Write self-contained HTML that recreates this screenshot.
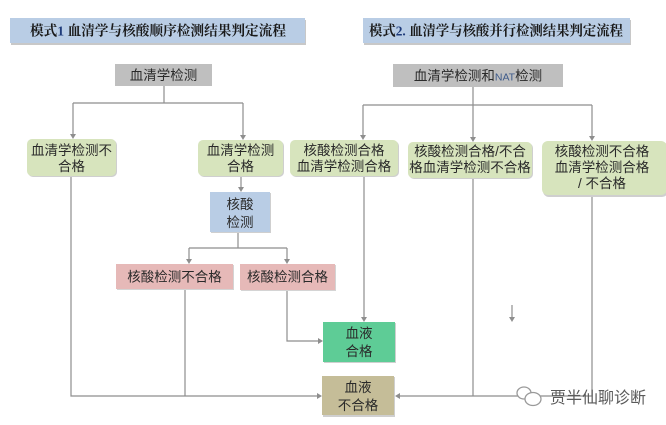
<!DOCTYPE html>
<html><head><meta charset="utf-8">
<style>
html,body{margin:0;padding:0;background:#fff;}
svg{display:block;}
.t{font-family:"Liberation Sans","Noto Sans CJK SC",sans-serif;font-size:13.5px;fill:#2a2a2a;text-anchor:middle;}
.ti{font-family:"Liberation Serif","Noto Serif CJK SC",serif;font-size:14px;font-weight:bold;fill:#1a1a1a;}
.ln{stroke:#8e8e8e;stroke-width:1.2;fill:none;}
.ar{fill:#8e8e8e;}
</style></head>
<body>
<svg width="666" height="425" viewBox="0 0 666 425" xmlns="http://www.w3.org/2000/svg">
<!-- titles -->
<rect x="11" y="20" width="295" height="25" fill="#c8c8c8"/>
<rect x="10" y="18" width="295" height="25" fill="#b9cde5"/>
<text class="ti" x="30" y="35.5" textLength="256" lengthAdjust="spacingAndGlyphs">模式<tspan fill="#1f3b7a">1</tspan> 血清学与核酸顺序检测结果判定流程</text>
<rect x="364" y="20" width="267" height="25" fill="#c8c8c8"/>
<rect x="363" y="18" width="267" height="25" fill="#b9cde5"/>
<text class="ti" x="369" y="35.5" textLength="254" lengthAdjust="spacingAndGlyphs">模式<tspan fill="#1f3b7a">2.</tspan> 血清学与核酸并行检测结果判定流程</text>

<!-- Mode 1 connectors -->
<path class="ln" d="M164 86 V103 M73 103 H243 M73 103 V134 M243 103 V135"/>
<polygon class="ar" points="70,134 76,134 73,139"/>
<polygon class="ar" points="240,135 246,135 243,140"/>
<path class="ln" d="M241 176 V187"/>
<polygon class="ar" points="238,187 244,187 241,192"/>
<path class="ln" d="M238 232 V248 M189 248 H287 M189 248 V259 M287 248 V259"/>
<polygon class="ar" points="186,259 192,259 189,264"/>
<polygon class="ar" points="284,259 290,259 287,264"/>
<path class="ln" d="M287 290 V341 H318"/>
<polygon class="ar" points="318,338 318,344 323,341"/>
<path class="ln" d="M71 176 V396 H317"/>
<polygon class="ar" points="317,393 317,399 322,396"/>
<path class="ln" d="M185 289 V396"/>

<!-- Mode 2 connectors -->
<path class="ln" d="M473 87 V105 M363 105 H592 M363 105 V135 M473 105 V137 M592 105 V136"/>
<polygon class="ar" points="360,135 366,135 363,140"/>
<polygon class="ar" points="470,137 476,137 473,142"/>
<polygon class="ar" points="589,136 595,136 592,141"/>
<path class="ln" d="M364 176 V317"/>
<polygon class="ar" points="361,317 367,317 364,322"/>
<path class="ln" d="M473 178 V396"/>
<path class="ln" d="M592 195 V396 H400"/>
<polygon class="ar" points="400,393 400,399 395,396"/>
<path class="ln" d="M512 305 V318"/>
<polygon class="ar" points="509,317 515,317 512,322"/>

<!-- Mode 1 boxes -->
<rect x="115" y="64" width="97" height="22" fill="#bfbfbf"/>
<text class="t" x="163.5" y="80">血清学检测</text>

<rect x="28" y="140" width="89" height="37" rx="5" fill="#cfcfcf"/>
<rect x="27" y="139" width="89" height="37" rx="5" fill="#d7e4bd"/>
<text class="t" x="71.5" y="155">血清学检测不</text>
<text class="t" x="71.5" y="171">合格</text>

<rect x="199" y="141" width="85" height="36" rx="5" fill="#cfcfcf"/>
<rect x="198" y="140" width="85" height="36" rx="5" fill="#d7e4bd"/>
<text class="t" x="240.5" y="155">血清学检测</text>
<text class="t" x="240.5" y="171">合格</text>

<rect x="211" y="193" width="60" height="40" fill="#cfcfcf"/>
<rect x="210" y="192" width="60" height="40" fill="#b9cde5"/>
<text class="t" x="240" y="209">核酸</text>
<text class="t" x="240" y="227">检测</text>

<rect x="117" y="265" width="117" height="25" fill="#d4d4d4"/>
<rect x="116" y="264" width="117" height="25" fill="#e6b9b8"/>
<text class="t" x="174.5" y="281.5">核酸检测不合格</text>

<rect x="241" y="265" width="95" height="26" fill="#d4d4d4"/>
<rect x="240" y="264" width="95" height="26" fill="#e6b9b8"/>
<text class="t" x="287.5" y="281.5">核酸检测合格</text>

<rect x="324" y="323" width="72" height="40" fill="#cfcfcf"/>
<rect x="323" y="322" width="72" height="40" fill="#5ecc96"/>
<text class="t" x="359" y="338">血液</text>
<text class="t" x="359" y="356">合格</text>

<rect x="323" y="377" width="72" height="40" fill="#cfcfcf"/>
<rect x="322" y="376" width="72" height="39" fill="#c5bd98"/>
<text class="t" x="358" y="392">血液</text>
<text class="t" x="358" y="410">不合格</text>

<!-- Mode 2 boxes -->
<rect x="393" y="64" width="170" height="23" fill="#bfbfbf"/>
<text class="t" x="478" y="80.5">血清学检测和<tspan font-size="10.5px" fill="#3d5a8a">NAT</tspan>检测</text>

<rect x="291" y="141" width="108" height="36" rx="5" fill="#cfcfcf"/>
<rect x="290" y="140" width="108" height="36" rx="5" fill="#d7e4bd"/>
<text class="t" x="344" y="155">核酸检测合格</text>
<text class="t" x="344" y="171">血清学检测合格</text>

<rect x="409" y="143" width="124" height="36" rx="5" fill="#cfcfcf"/>
<rect x="408" y="142" width="124" height="36" rx="5" fill="#d7e4bd"/>
<text class="t" x="470" y="156">核酸检测合格/不合</text>
<text class="t" x="470" y="172">格血清学检测不合格</text>

<rect x="543" y="142" width="125" height="55" rx="6" fill="#cfcfcf"/>
<rect x="542" y="141" width="125" height="54" rx="6" fill="#d7e4bd"/>
<text class="t" x="602" y="156">核酸检测不合格</text>
<text class="t" x="602" y="172">血清学检测合格</text>
<text class="t" x="602" y="188">/ 不合格</text>

<!-- watermark -->
<g fill="#fff" stroke="#9a9a9a" stroke-width="1.3">
<ellipse cx="524" cy="393" rx="7" ry="6"/>
<ellipse cx="533" cy="399" rx="8" ry="6.5"/>
</g>
<text x="550" y="403" font-family="'Liberation Sans','Noto Sans CJK SC',sans-serif" font-size="16px" fill="#5a5a5a">贾半仙聊诊断</text>
</svg>
</body></html>
